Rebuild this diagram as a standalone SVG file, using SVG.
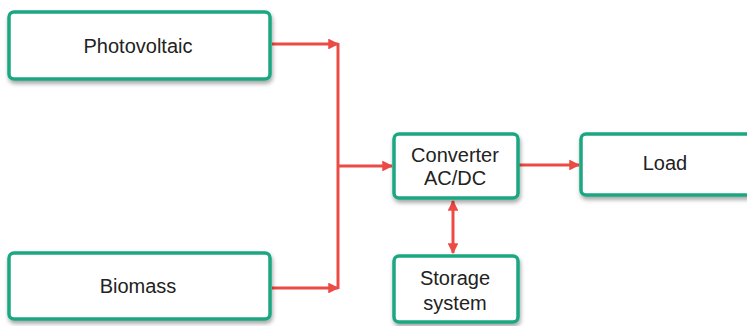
<svg xmlns="http://www.w3.org/2000/svg" width="747" height="326" viewBox="0 0 747 326">
  <defs>
    <filter id="shadow" x="-10%" y="-20%" width="120%" height="150%">
      <feDropShadow dx="1" dy="3" stdDeviation="2" flood-color="#000" flood-opacity="0.35"/>
    </filter>
    <marker id="head" viewBox="0 0 10 10" refX="9" refY="5" markerWidth="3.6" markerHeight="3.6" orient="auto-start-reverse">
      <path d="M0,0 L10,5 L0,10 z" fill="#ec4a44"/>
    </marker>
  </defs>
  <style>
    .box { fill: #ffffff; stroke: #1ca783; stroke-width: 3.5; filter: url(#shadow); }
    .lbl { font-family: "Liberation Sans", Arial, sans-serif; font-size: 20px; fill: #222; text-anchor: middle; }
    .wire { fill: none; stroke: #ec4a44; stroke-width: 3; }
  </style>
  <rect width="747" height="326" fill="#ffffff"/>

  <g id="connectors">
    <path class="wire" d="M272,44 H338" marker-end="url(#head)"/>
    <path class="wire" d="M272,288 H338" marker-end="url(#head)"/>
    <path class="wire" d="M338,43 V289"/>
    <path class="wire" d="M338,166 H392" marker-end="url(#head)"/>
    <path class="wire" d="M519,165 H579" marker-end="url(#head)"/>
    <path class="wire" d="M453,201 V253" marker-start="url(#head)" marker-end="url(#head)"/>
  </g>

  <g id="photovoltaic">
    <rect class="box" x="9" y="12" width="261" height="67" rx="5"/>
    <text class="lbl" x="138" y="53">Photovoltaic</text>
  </g>
  <g id="biomass">
    <rect class="box" x="9" y="253" width="261" height="66" rx="5"/>
    <text class="lbl" x="138" y="293">Biomass</text>
  </g>
  <g id="converter">
    <rect class="box" x="394" y="134" width="124" height="64" rx="5"/>
    <text class="lbl" x="455" y="162">Converter</text>
    <text class="lbl" x="455" y="185">AC/DC</text>
  </g>
  <g id="load">
    <rect class="box" x="581" y="134" width="180" height="61" rx="5"/>
    <text class="lbl" x="665" y="170">Load</text>
  </g>
  <g id="storage">
    <rect class="box" x="394" y="256" width="124" height="66" rx="5"/>
    <text class="lbl" x="455" y="285">Storage</text>
    <text class="lbl" x="455" y="310">system</text>
  </g>
</svg>
